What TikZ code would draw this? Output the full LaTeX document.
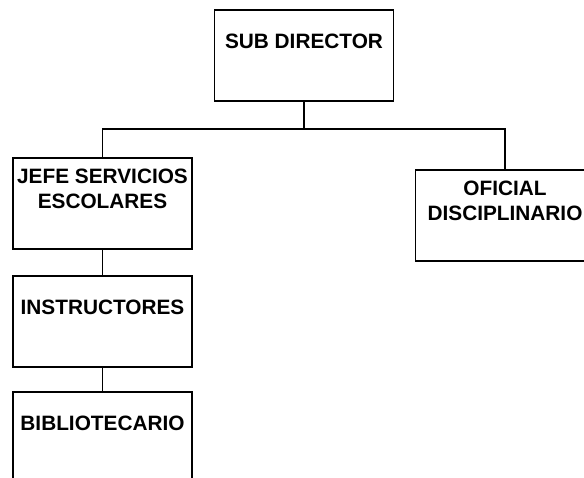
\documentclass[tikz,border=0pt]{standalone}
\usepackage{fontspec}
\setmainfont{Liberation Sans}

\begin{document}
\begin{tikzpicture}[x=1pt, y=-1pt,
		caja/.style={draw, line width=1.6pt, minimum width=179pt, minimum height=91pt, inner sep=0pt},
		texto/.style={align=center, inner sep=0pt, font=\bfseries\fontsize{20.8}{25}\selectfont},
		linea/.style={line width=1.8pt}]
		\useasboundingbox (0,0) rectangle (584,477);
		
		% Top box
		\node[caja] (sub) at (304,55.5) {};
		\node[texto] (sub-t) at ([yshift=-32pt]sub.north) {SUB DIRECTOR};
		
		% Second level
		\node[caja] (jefe) at (102.5,203.5) {};
		\node[texto] (jefe-t) at ([yshift=-32pt]jefe.north) {JEFE SERVICIOS\\ESCOLARES};
		
		\node[caja] (ofi) at (505,215.5) {};
		\node[texto] (ofi-t) at ([yshift=-32pt]ofi.north) {OFICIAL\\DISCIPLINARIO};
		
		% Below the left box
		\node[caja] (instr) at (102.5,321.5) {};
		\node[texto] (instr-t) at ([yshift=-32pt]instr.north) {INSTRUCTORES};
		
		\node[caja] (biblio) at (102.5,437.5) {};
		\node[texto] (biblio-t) at ([yshift=-32pt]biblio.north) {BIBLIOTECARIO};
		
		% Connectors
		\coordinate (bus) at (304,129);
		\draw[linea] (sub.south) -- (bus);
		\draw[linea] (jefe.north) |- (bus) -| (ofi.north);
		\draw[linea] (jefe.south) -- (instr.north);
		\draw[linea] (instr.south) -- (biblio.north);
	\end{tikzpicture}
\end{document}
